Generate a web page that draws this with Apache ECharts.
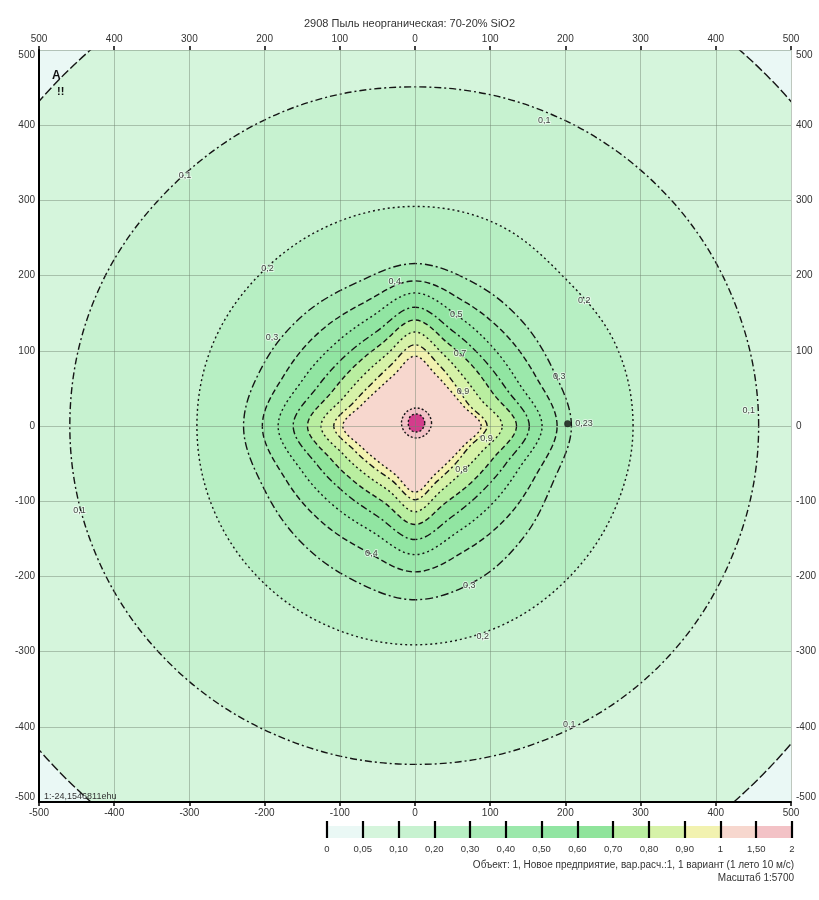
<!DOCTYPE html>
<html>
<head>
<meta charset="utf-8">
<script src="https://cdn.jsdelivr.net/npm/echarts@6/dist/echarts.min.js"></script>
<style>
  html, body { margin: 0; padding: 0; background: #ffffff; }
  #chart { width: 819px; height: 900px; }
</style>
</head>
<body>
<div id="chart"></div>
<script>
// ---- Text ----
const titleText = '2908 Пыль неорганическая: 70-20% SiO2';
const footerLine1 = 'Объект: 1, Новое предприятие, вар.расч.:1, 1 вариант (1 лето 10 м/с)';
const footerLine2 = 'Масштаб 1:5700';
const cornerNote = '1:-24,1546811ehu';

// ---- Concentration levels (доли ПДК) and legend tick labels ----
const levels = [0.05, 0.1, 0.2, 0.3, 0.4, 0.5, 0.6, 0.7, 0.8, 0.9, 1, 1.5, 2];
const legendTicks = ['0', '0,05', '0,10', '0,20', '0,30', '0,40', '0,50', '0,60', '0,70', '0,80', '0,90', '1', '1,50', '2'];

// ---- Isolines, metres from the source, counter-clockwise from the +X axis ----
const iso005 = [[660,0],[610,253],[467,467],[253,610],[0,660],[-253,610],[-467,467],[-610,253],[-660,0],[-610,-253],[-465,-468],[-253,-610],[0,-660],[253,-608],[462,-464],[606,-251]];
const iso01  = [[457,0],[421,174],[322,320],[173,418],[0,451],[-173,419],[-320,322],[-423,176],[-459,0],[-423,-174],[-322,-320],[-173,-416],[0,-450],[174,-417],[322,-322],[421,-175]];
const iso02  = [[290,0],[266,110],[198,198],[110,268],[0,292],[-111,268],[-204,204],[-268,111],[-290,0],[-268,-111],[-205,-205],[-111,-268],[0,-291],[111,-267],[203,-203],[266,-110]];
const iso03  = [[208,0],[183,76],[141,141],[79,190],[0,216],[-79,190],[-148,148],[-201,83],[-228,0],[-201,-83],[-153,-153],[-84,-204],[0,-231],[84,-204],[146,-146],[183,-76]];
const iso04  = [[189,0],[160,67],[121,121],[68,164],[0,193],[-68,164],[-126,126],[-172,71],[-203,0],[-172,-71],[-126,-126],[-68,-165],[0,-194],[68,-165],[122,-122],[160,-67]];
const iso05  = [[169,0],[138,57],[104,104],[60,144],[0,177],[-60,144],[-108,108],[-149,62],[-182,0],[-149,-62],[-107,-107],[-58,-140],[0,-171],[58,-140],[103,-103],[138,-57]];
const iso06  = [[152,0],[121,50],[90,90],[52,125],[0,158],[-52,125],[-93,93],[-129,53],[-162,0],[-129,-53],[-91,-91],[-50,-120],[0,-151],[50,-120],[88,-88],[121,-50]];
const iso07  = [[135,0],[104,43],[78,78],[45,109],[0,141],[-45,109],[-80,80],[-110,46],[-143,0],[-110,-46],[-77,-77],[-42,-101],[0,-131],[42,-101],[75,-75],[104,-43]];
const iso08  = [[116,0],[87,36],[65,65],[39,94],[0,125],[-39,94],[-68,68],[-94,39],[-125,0],[-94,-39],[-65,-65],[-35,-86],[0,-114],[35,-86],[62,-62],[87,-36]];
const iso09  = [[96,0],[71,29],[54,54],[33,80],[0,108],[-33,80],[-57,57],[-80,33],[-108,0],[-80,-33],[-55,-55],[-30,-73],[0,-98],[30,-73],[52,-52],[71,-29]];
const iso10  = [[88,0],[64,27],[47,47],[28,68],[0,93],[-28,68],[-49,49],[-70,29],[-96,0],[-70,-29],[-48,-48],[-27,-64],[0,-88],[27,-64],[46,-46],[64,-27]];
const iso15  = [[22,4],[16,18],[2,24],[-12,18],[-18,4],[-12,-10],[2,-16],[16,-10]];
const iso20  = [[13,4],[9,13],[2,16],[-6,13],[-9,4],[-6,-5],[2,-8],[9,-5]];
const isolines = [iso005, iso01, iso02, iso03, iso04, iso05, iso06, iso07, iso08, iso09, iso10, iso15, iso20];

// Isoline captions [x, y, text]
const isoCaptions = [
  [-306, 333, '0,1'], [172, 406, '0,1'], [444, 21, '0,1'], [-446, -112, '0,1'], [205, -397, '0,1'],
  [-196, 210, '0,2'], [225, 167, '0,2'], [90, -280, '0,2'],
  [-190, 118, '0,3'], [192, 66, '0,3'], [72, -212, '0,3'],
  [-27, 192, '0,4'], [-58, -170, '0,4'],
  [55, 148, '0,5'],
  [60, 96, '0,7'],
  [62, -58, '0,8'],
  [64, 46, '0,9'], [95, -17, '0,9']
];

// Calculation point with its value
const calcPoint = [[203, 3, '0,23']];

// ---- Styles ----
// colour of each legend band [tick i, tick i+1]
const bandColors = ['#eaf8f5', '#d5f5dc', '#c7f2d0', '#b7efc3', '#a8ebb6', '#9be8ab', '#91e5a2', '#8fe49b', '#b9eea0', '#d6f2a8', '#f2f2b0', '#f7d7ce', '#f3c2c6'];
const coreColor = '#d43c8c';
// fill inside each isoline (index = isoline)
const isoFills = bandColors.slice(1).concat([coreColor]);
const isoDashes = [[9,3],[7,3,2,3],[2,3],[8,3,2,3],[6,3],[2,3],[7,3,2,3],[5,3],[2,3],[6,3,2,3],[2,3],[2,2],[2,2]];

const font = 'Liberation Sans';

function isolineSeries(pts, idx) {
  return {
    type: 'custom',
    coordinateSystem: 'cartesian2d',
    xAxisIndex: 0,
    yAxisIndex: 0,
    clip: true,
    silent: true,
    z: 2,
    data: pts,
    renderItem: function (params, api) {
      if (params.dataIndex !== 0) return null;
      const points = pts.map(function (p) { return api.coord(p); });
      return {
        type: 'polygon',
        shape: { points: points, smooth: 0.35 },
        style: {
          fill: isoFills[idx],
          stroke: '#151515',
          lineWidth: 1.4,
          lineDash: isoDashes[idx]
        }
      };
    }
  };
}

const series = isolines.map(isolineSeries);

series.push({
  type: 'scatter',
  xAxisIndex: 0, yAxisIndex: 0,
  data: isoCaptions,
  symbolSize: 0,
  silent: true,
  z: 8,
  label: {
    show: true,
    position: 'inside',
    formatter: function (p) { return p.data[2]; },
    fontFamily: font,
    fontSize: 9,
    color: '#111',
    textBorderColor: 'rgba(255,255,255,0.7)',
    textBorderWidth: 2
  }
});

series.push({
  type: 'scatter',
  xAxisIndex: 0, yAxisIndex: 0,
  data: calcPoint,
  symbolSize: 7,
  itemStyle: { color: '#111' },
  silent: true,
  z: 8,
  label: {
    show: true,
    position: 'right',
    distance: 4,
    formatter: function (p) { return p.data[2]; },
    fontFamily: font,
    fontSize: 9,
    color: '#111',
    textBorderColor: 'rgba(255,255,255,0.7)',
    textBorderWidth: 2
  }
});

// legend colour bar
series.push({
  type: 'custom',
  xAxisIndex: 2,
  yAxisIndex: 2,
  silent: true,
  z: 1,
  data: bandColors.map(function (c, i) { return [i, i + 1]; }),
  renderItem: function (params, api) {
    const a = api.coord([api.value(0), 0]);
    const b = api.coord([api.value(1), 1]);
    return {
      type: 'rect',
      shape: { x: a[0], y: b[1], width: b[0] - a[0], height: a[1] - b[1] },
      style: { fill: bandColors[params.dataIndex] }
    };
  }
});

const labelStyle = { fontFamily: font, fontSize: 10, color: '#333' };

const option = {
  animation: false,
  backgroundColor: '#ffffff',
  title: {
    text: titleText,
    left: 'center',
    top: 13,
    textStyle: { fontFamily: font, fontSize: 11, fontWeight: 'normal', color: '#333' }
  },
  grid: [
    { left: 39, right: 27, top: 50, bottom: 98, show: true, backgroundColor: bandColors[0], borderWidth: 0 },
    { left: 327, right: 27, top: 826, height: 12 }
  ],
  xAxis: [
    {
      gridIndex: 0, type: 'value', min: -500, max: 500, interval: 100, position: 'bottom', z: 5,
      axisLine: { onZero: false, lineStyle: { color: '#000', width: 2 } },
      axisTick: { length: 4, lineStyle: { color: '#000', width: 1.5 } },
      axisLabel: Object.assign({ margin: 6 }, labelStyle),
      splitLine: { show: true, lineStyle: { color: 'rgba(110,130,110,0.45)', width: 1 } }
    },
    {
      gridIndex: 0, type: 'value', min: -500, max: 500, interval: 100, position: 'top', z: 5,
      axisLine: { show: false, onZero: false },
      axisTick: { show: true, length: 4, lineStyle: { color: '#000', width: 1.5 } },
      axisLabel: Object.assign({ margin: 6, formatter: function (v) { return String(Math.abs(v)); } }, labelStyle),
      splitLine: { show: false }
    },
    {
      gridIndex: 1, type: 'value', min: 0, max: legendTicks.length - 1, interval: 1, position: 'bottom', z: 6,
      axisLine: { show: false, onZero: false },
      axisTick: { show: true, inside: true, length: 17, lineStyle: { color: '#000', width: 2.2 } },
      axisLabel: { margin: 6, fontFamily: font, fontSize: 9.5, color: '#333', formatter: function (v) { return legendTicks[v]; } },
      splitLine: { show: false }
    }
  ],
  yAxis: [
    {
      gridIndex: 0, type: 'value', min: -500, max: 500, interval: 100, position: 'left', z: 5,
      axisLine: { show: true, onZero: false, lineStyle: { color: '#000', width: 2 } },
      axisTick: { show: false },
      axisLabel: Object.assign({ margin: 4, verticalAlignMinLabel: 'bottom', verticalAlignMaxLabel: 'top' }, labelStyle),
      splitLine: { show: true, lineStyle: { color: 'rgba(110,130,110,0.45)', width: 1 } }
    },
    {
      gridIndex: 0, type: 'value', min: -500, max: 500, interval: 100, position: 'right', z: 5,
      axisLine: { show: false, onZero: false },
      axisTick: { show: false },
      axisLabel: Object.assign({ margin: 5, verticalAlignMinLabel: 'bottom', verticalAlignMaxLabel: 'top' }, labelStyle),
      splitLine: { show: false }
    },
    { gridIndex: 1, type: 'value', min: 0, max: 1, show: false }
  ],
  graphic: [
    { type: 'text', left: 52, top: 70, z: 10, style: { text: 'A', font: 'bold 12px ' + font, fill: '#111' } },
    { type: 'text', left: 57, top: 86, z: 10, style: { text: '!!', font: 'bold 11px ' + font, fill: '#111' } },
    { type: 'text', left: 44, top: 792, z: 10, style: { text: cornerNote, font: '9px ' + font, fill: '#333' } },
    { type: 'text', right: 25, top: 860, style: { text: footerLine1, font: '10px ' + font, fill: '#333' } },
    { type: 'text', right: 25, top: 873, style: { text: footerLine2, font: '10px ' + font, fill: '#333' } }
  ],
  series: series
};

const chart = echarts.init(document.getElementById('chart'), null, { renderer: 'canvas' });
chart.setOption(option);
</script>
</body>
</html>
